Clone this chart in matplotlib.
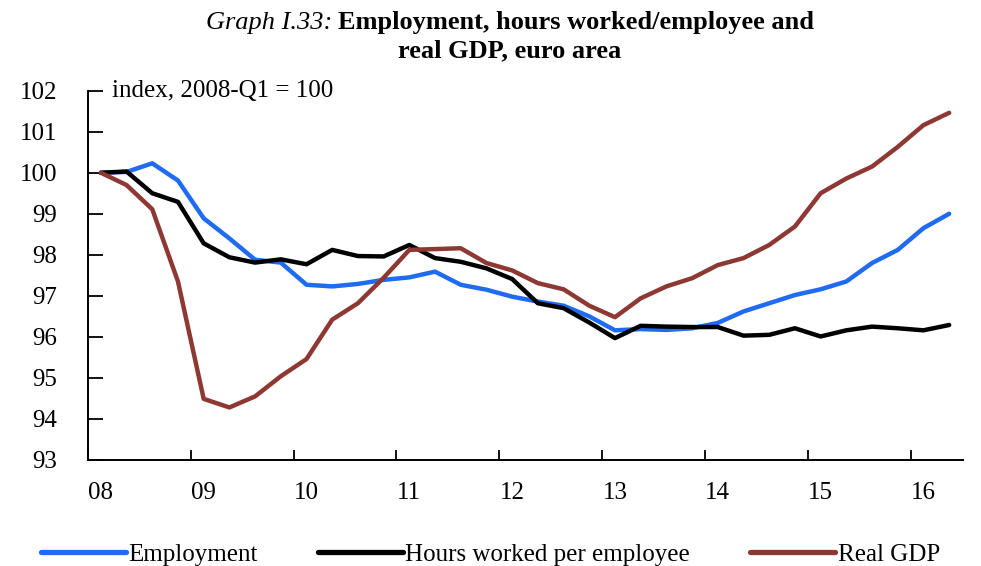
import numpy as np
import matplotlib
matplotlib.use("Agg")
import matplotlib.pyplot as plt
from matplotlib.ticker import FixedLocator, NullFormatter

plt.rcParams['font.family'] = ['Liberation Serif', 'DejaVu Serif']

# quarterly, 2008-Q1 .. 2016-Q2, index 2008-Q1 = 100
employment = [100.00, 100.02, 100.23, 99.81, 98.89, 98.40, 97.88, 97.81, 97.27, 97.23,
              97.29, 97.39, 97.45, 97.59, 97.27, 97.15, 96.98, 96.86, 96.76, 96.50,
              96.16, 96.19, 96.17, 96.21, 96.34, 96.62, 96.82, 97.02, 97.16, 97.35,
              97.80, 98.12, 98.65, 99.00]
hours = [100.00, 100.03, 99.50, 99.29, 98.28, 97.94, 97.81, 97.89, 97.77, 98.12,
         97.97, 97.96, 98.24, 97.92, 97.83, 97.67, 97.41, 96.82, 96.70, 96.35,
         95.97, 96.27, 96.25, 96.24, 96.24, 96.03, 96.05, 96.21, 96.01, 96.16,
         96.25, 96.21, 96.16, 96.29]
real_gdp = [100.00, 99.70, 99.11, 97.35, 94.49, 94.28, 94.55, 95.04, 95.46, 96.42,
            96.82, 97.44, 98.12, 98.14, 98.16, 97.80, 97.62, 97.31, 97.16, 96.76,
            96.48, 96.94, 97.23, 97.43, 97.75, 97.92, 98.24, 98.69, 99.50, 99.86,
            100.15, 100.63, 101.16, 101.46]
years = list(range(2008, 2017))
year_labels = ['08', '09', '10', '11', '12', '13', '14', '15', '16']
y_ticks = list(range(93, 103))

# points sit in the middle of each quarter
t = 2008 + (np.arange(len(employment)) + 0.5) / 4

fig = plt.figure(figsize=(9.81, 5.66), dpi=100)
ax = fig.add_axes([0.0897, 0.1873, 0.892, 0.6525])

lw = 3.2
ax.plot(t, employment, color='#1f6bf2', lw=lw, solid_capstyle='round', label='Employment')
ax.plot(t, hours, color='black', lw=lw, solid_capstyle='round', label='Hours worked per employee')
ax.plot(t, real_gdp, color='#8e3834', lw=lw, solid_capstyle='round', label='Real GDP')

ax.set_xlim(2008, 2016.51)
ax.set_ylim(93, 102)

for s in ['top', 'right']:
    ax.spines[s].set_visible(False)
for s in ['left', 'bottom']:
    ax.spines[s].set_linewidth(1.4)

ax.set_yticks(y_ticks)
ax.tick_params(axis='y', direction='in', length=11, width=1.3, pad=22, labelsize=18)

# ticks on year boundaries, labels under first quarter
ax.xaxis.set_major_locator(FixedLocator(years))
ax.xaxis.set_major_formatter(NullFormatter())
ax.xaxis.set_minor_locator(FixedLocator([y + 0.125 for y in years]))
ax.set_xticklabels(year_labels, minor=True)
ax.tick_params(axis='x', which='major', direction='in', length=7, width=1.3)
ax.tick_params(axis='x', which='minor', length=0, pad=16, labelsize=18)

ax.text(0.028, 1.0, 'index, 2008-Q1 = 100', transform=ax.transAxes,
        fontsize=18, ha='left', va='center')

leg = fig.legend(loc='lower center', bbox_to_anchor=(0.5, -0.04), ncol=3, frameon=False,
                 fontsize=18, handlelength=3.4, handletextpad=0.1, columnspacing=2.4)
for h in leg.legend_handles:
    h.set_linewidth(3.8)

# title: italic label + bold text on line one, centred together
t1 = fig.text(0, 1 - 23 / 566, 'Graph I.33: ', fontsize=19, style='italic', ha='left', va='center')
t2 = fig.text(0, 1 - 23 / 566, 'Employment, hours worked/employee and', fontsize=19,
              weight='bold', ha='left', va='center')
fig.text(510 / 981, 1 - 51 / 566, 'real GDP, euro area', fontsize=19, weight='bold',
         ha='center', va='center')
fig.canvas.draw()
r = fig.canvas.get_renderer()
w1 = t1.get_window_extent(r).width
w2 = t2.get_window_extent(r).width
x0 = 510 - (w1 + w2) / 2
t1.set_x(x0 / 981)
t2.set_x((x0 + w1) / 981)

fig.savefig('out.png', dpi=100)
